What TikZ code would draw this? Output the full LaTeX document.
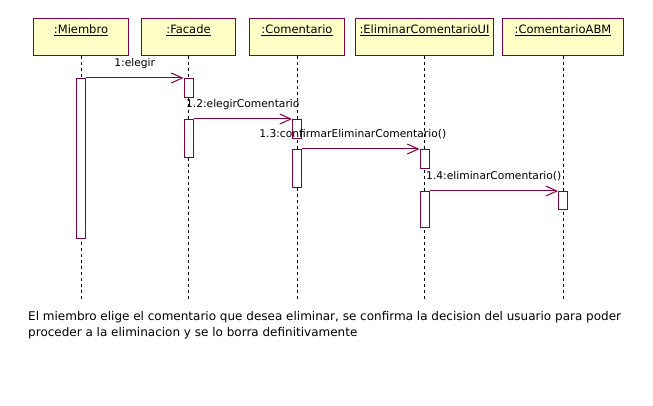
\documentclass[tikz,border=0pt]{standalone}
\usepackage{fontspec}
\setmainfont{DejaVu Sans}
\usetikzlibrary{arrows.meta}
\definecolor{umlline}{HTML}{800040}
\definecolor{umlfill}{HTML}{FFFFC8}
\tikzset{
  objbox/.style={draw=umlline, fill=umlfill, line width=1pt, anchor=north west,
    inner sep=4pt, text height=11pt, text depth=18pt, font=\fontsize{11.5}{12}\selectfont},
  lifeline/.style={black, line width=1pt, dash pattern=on 3pt off 3pt},
  act/.style={draw=umlline, fill=white, line width=1pt, anchor=north, inner sep=0pt,
    minimum width=9pt},
  msg/.style={umlline, line width=1pt, -{Straight Barb[length=11pt,width=10pt,line width=1pt]}},
  msglabel/.style={black, anchor=base, yshift=11pt, inner sep=0pt,
    font=\fontsize{10.7}{12}\selectfont}
}

\begin{document}
\begin{tikzpicture}[x=1pt, y=-1pt]
\useasboundingbox[fill=white] (0,0) rectangle (653,406);

% objetos
\node[objbox, minimum width=95pt] (miembro) at (33,18) {\underline{:Miembro}};
\node[objbox, minimum width=94pt] (facade) at (141,18) {\underline{:Facade}};
\node[objbox, minimum width=95pt] (comentario) at (249,18) {\underline{:Comentario}};
\node[objbox, minimum width=138pt] (eliminarui) at (355,18) {\underline{:EliminarComentarioUI}};
\node[objbox, minimum width=121pt] (abm) at (502,18) {\underline{:ComentarioABM}};

% lineas de vida
\foreach \obj in {miembro, facade, comentario, eliminarui, abm}
  \draw[lifeline] (\obj.south) -- (\obj.south |- 0,300);

% activaciones
\node[act, minimum height=160pt] (am) at (miembro.south |- 0,78) {};
\node[act, minimum height=19pt] (af1) at (facade.south |- 0,78) {};
\node[act, minimum height=38pt] (af2) at (facade.south |- 0,119) {};
\node[act, minimum height=19pt] (ac1) at (comentario.south |- 0,119) {};
\node[act, minimum height=38pt] (ac2) at (comentario.south |- 0,149) {};
\node[act, minimum height=19pt] (au1) at (eliminarui.south |- 0,149) {};
\node[act, minimum height=36pt] (au2) at (eliminarui.south |- 0,191) {};
\node[act, minimum height=18pt] (aa) at (abm.south |- 0,191) {};

% mensajes
\draw[msg] (am.north east) -- node[msglabel] {1:elegir} (af1.north west);
\draw[msg] (af2.north east) -- node[msglabel] {1.2:elegirComentario} (ac1.north west);
\draw[msg] (ac2.north east) -- node[msglabel, xshift=-8pt] {1.3:confirmarEliminarComentario()} (au1.north west);
\draw[msg] (au2.north east) -- node[msglabel] {1.4:eliminarComentario()} (aa.north west);

% descripcion
\node[anchor=north west, align=left, inner sep=0pt, font=\fontsize{12}{16}\selectfont] (desc) at (28,311)
  {El miembro elige el comentario que desea eliminar, se confirma la decision del usuario para poder\\
   proceder a la eliminacion y se lo borra definitivamente};
\end{tikzpicture}
\end{document}
